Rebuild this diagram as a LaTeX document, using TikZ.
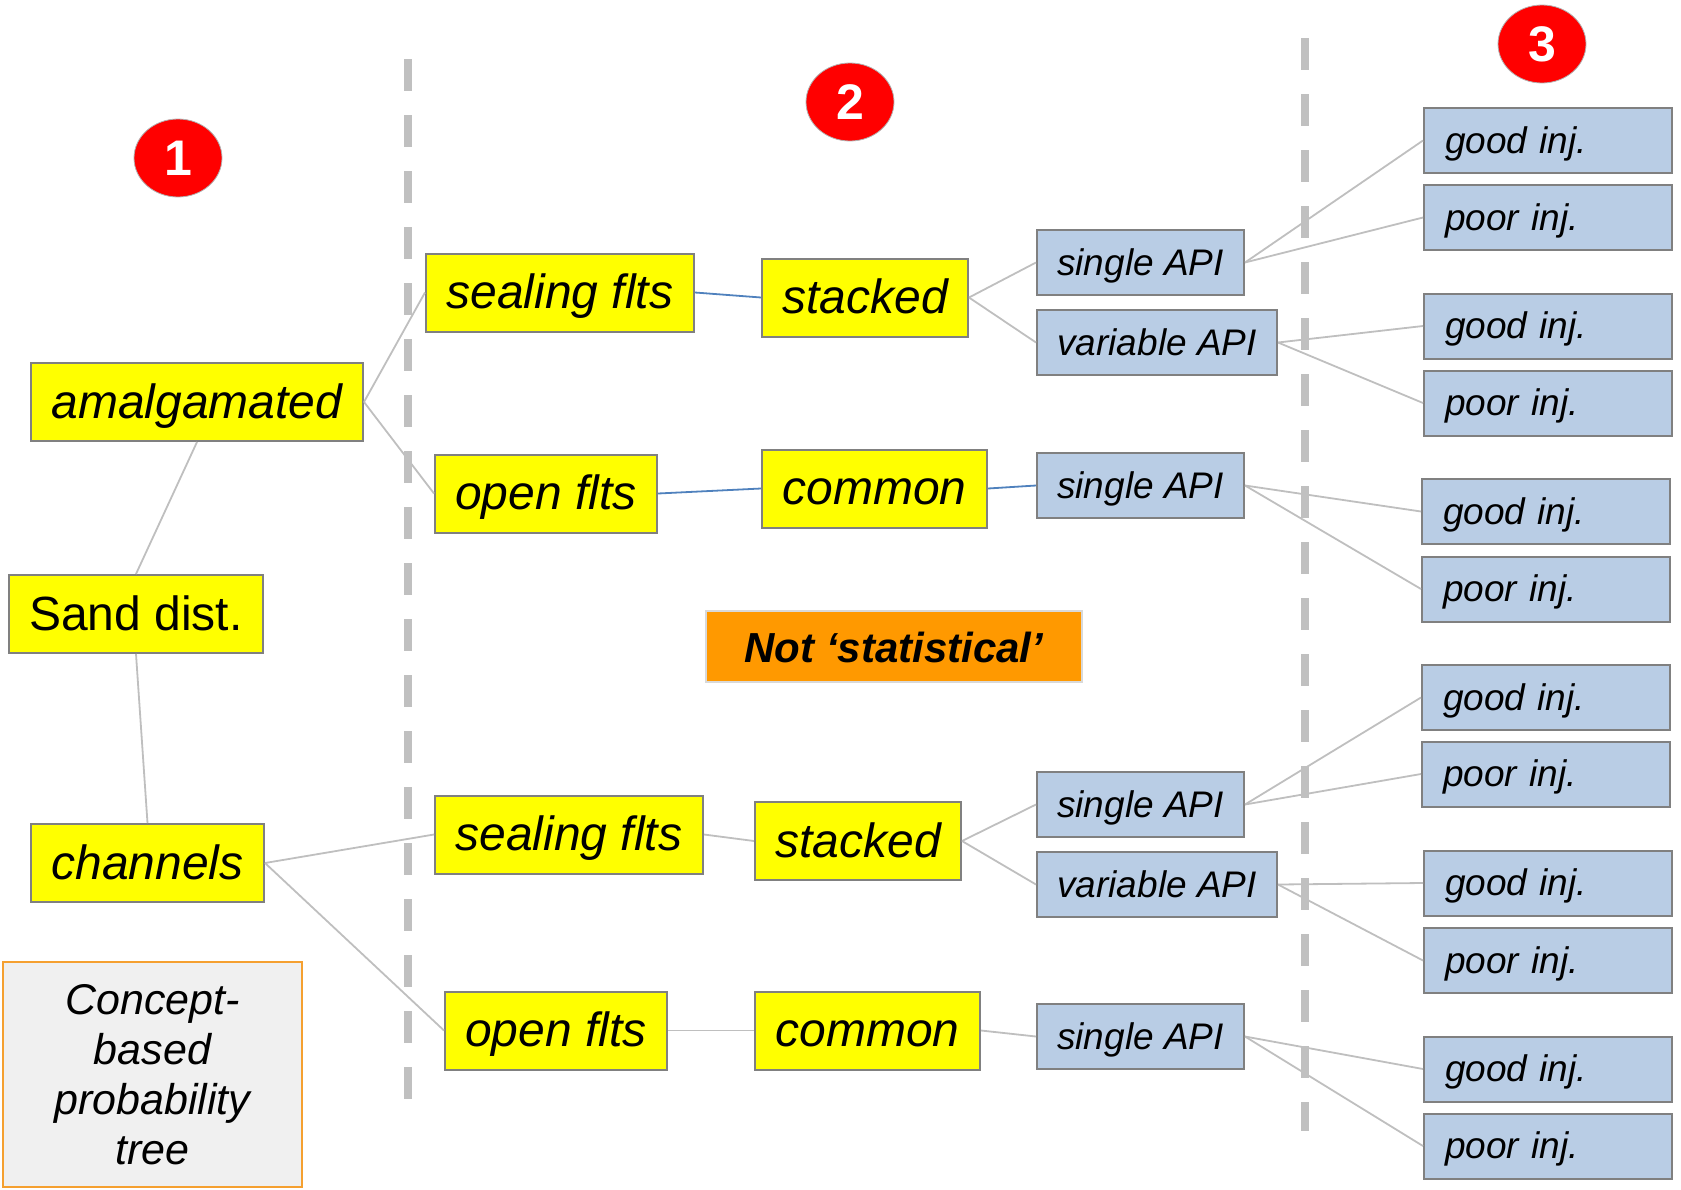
\documentclass[tikz,border=0pt]{standalone}
\usepackage{fontspec}
\setmainfont{Liberation Sans}
\usetikzlibrary{shapes.geometric}

\definecolor{boxyellow}{HTML}{FFFF00}
\definecolor{boxedge}{HTML}{808080}
\definecolor{apiblue}{HTML}{B9CDE5}
\definecolor{linkgrey}{HTML}{BFBFBF}
\definecolor{linkblue}{HTML}{4F81BD}
\definecolor{divgrey}{HTML}{C0C0C0}
\definecolor{numred}{HTML}{FF0000}
\definecolor{noteorange}{HTML}{FF9900}
\definecolor{noteedge}{HTML}{D9D9D9}
\definecolor{conceptfill}{HTML}{F0F0F0}
\definecolor{conceptedge}{HTML}{F5A030}

\begin{document}
\begin{tikzpicture}[x=1pt, y=-1pt,
  yelbox/.style={draw=boxedge, line width=2pt, fill=boxyellow, inner sep=0pt,
    minimum height=78pt, text height=34pt, text depth=2pt,
    font=\fontsize{48}{56}\selectfont\itshape},
  apibox/.style={draw=boxedge, line width=2pt, fill=apiblue, inner sep=0pt,
    minimum height=65pt, text height=27pt, text depth=2pt,
    font=\fontsize{37}{44}\selectfont\itshape},
  injbox/.style={apibox, minimum width=248pt, text width=206pt, align=left, inner xsep=21pt},
  stepnum/.style={ellipse, fill=numred, draw=gray!60, line width=0.8pt, inner sep=0pt,
    minimum width=88pt, minimum height=78pt, text=white,
    font=\fontsize{50}{60}\selectfont\bfseries},
  link/.style={linkgrey, line width=1.8pt},
  bluelink/.style={linkblue, line width=1.8pt},
  divider/.style={divgrey, line width=8pt, dash pattern=on 32pt off 24pt}]

  \useasboundingbox (0,0) rectangle (1681,1189);

  % step numbers
  \node[stepnum] (num1) at (178,158) {1};
  \node[stepnum] (num2) at (850,102) {2};
  \node[stepnum] (num3) at (1542,44) {3};

  % level 1
  \node[yelbox, minimum width=332pt] (amalg) at (197,402) {amalgamated};
  \node[yelbox, minimum width=254pt, font=\fontsize{48}{56}\selectfont] (sand) at (136,614) {Sand dist.};
  \node[yelbox, minimum width=233pt] (chan) at (147.5,863) {channels};

  \node[draw=conceptedge, line width=2pt, fill=conceptfill, minimum width=299pt, minimum height=225pt,
    inner sep=0pt, align=center, font=\fontsize{43}{50}\selectfont\itshape]
    (concept) at (152.5,1074.5) {Concept-\\based\\probability\\tree};

  % level 2, upper half
  \node[yelbox, minimum width=268pt] (sealT) at (560,292.5) {sealing flts};
  \node[yelbox, minimum width=222pt] (openT) at (546,493.5) {open flts};
  \node[yelbox, minimum width=206pt] (stackT) at (865,297.5) {stacked};
  \node[yelbox, minimum width=225pt] (commT) at (874.5,488.5) {common};
  \node[apibox, minimum width=207pt] (sglTa) at (1140.5,262.5) {single API};
  \node[apibox, minimum width=240pt] (varT) at (1157,342.5) {variable API};
  \node[apibox, minimum width=207pt] (sglTb) at (1140.5,485.5) {single API};

  \node[draw=noteedge, line width=2pt, fill=noteorange, minimum width=376pt, minimum height=71pt,
    inner sep=0pt, text height=33pt, text depth=2pt,
    font=\fontsize{42}{50}\selectfont\bfseries\itshape] (note) at (894,646.5) {Not ‘statistical’};

  % level 2, lower half
  \node[yelbox, minimum width=268pt] (sealB) at (569,834.5) {sealing flts};
  \node[yelbox, minimum width=222pt] (openB) at (556,1030.5) {open flts};
  \node[yelbox, minimum width=206pt] (stackB) at (858,841) {stacked};
  \node[yelbox, minimum width=225pt] (commB) at (867.5,1030.5) {common};
  \node[apibox, minimum width=207pt] (sglBa) at (1140.5,804.5) {single API};
  \node[apibox, minimum width=240pt] (varB) at (1157,884.5) {variable API};
  \node[apibox, minimum width=207pt] (sglBb) at (1140.5,1036.5) {single API};

  % level 3
  \foreach \nm/\x/\y/\txt in {g1/1548/140.5/good inj., p1/1548/217.5/poor inj.,
      g2/1548/326/good inj., p2/1548/403/poor inj.,
      g3/1546/511.5/good inj., p3/1546/589/poor inj.,
      g4/1546/697.5/good inj., p4/1546/774/poor inj.,
      g5/1548/883/good inj., p5/1548/960.5/poor inj.,
      g6/1548/1069/good inj., p6/1548/1146/poor inj.} {
    \node[injbox] (\nm) at (\x,\y) {\txt};
  }

  % connectors
  \draw[link] (sand.north) -- (amalg.south);
  \draw[link] (sand.south) -- (chan.north);
  \draw[link] (amalg.east) -- (sealT.west);
  \draw[link] (amalg.east) -- (openT.west);
  \draw[link] (chan.east) -- (sealB.west);
  \draw[link] (chan.east) -- (openB.west);

  \draw[bluelink] (sealT.east) -- (stackT.west);
  \draw[bluelink] (openT.east) -- (commT.west);
  \draw[bluelink] (commT.east) -- (sglTb.west);
  \draw[link] (sealB.east) -- (stackB.west);
  \draw[link] (openB.east) -- (commB.west);
  \draw[link] (commB.east) -- (sglBb.west);

  \foreach \a/\b in {stackT/sglTa, stackT/varT, stackB/sglBa, stackB/varB} {
    \draw[link] (\a.east) -- (\b.west);
  }
  \foreach \a/\g/\p in {sglTa/g1/p1, varT/g2/p2, sglTb/g3/p3, sglBa/g4/p4, varB/g5/p5, sglBb/g6/p6} {
    \draw[link] (\a.east) -- (\g.west);
    \draw[link] (\a.east) -- (\p.west);
  }

  % dividers
  \draw[divider] (408,59) -- (408,1099);
  \draw[divider] (1305,38) -- (1305,1131);
\end{tikzpicture}
\end{document}
